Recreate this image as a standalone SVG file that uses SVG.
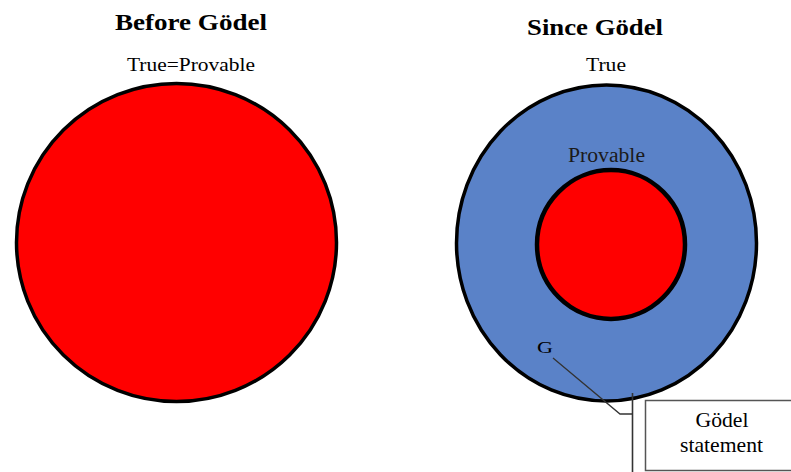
<svg xmlns="http://www.w3.org/2000/svg" width="791" height="472" viewBox="0 0 791 472">
<style>
.title{font-family:"Liberation Serif","Times New Roman",serif;font-weight:bold;font-size:23px;fill:#000}
.lbl{font-family:"Liberation Serif","Times New Roman",serif;fill:#000}
.red{fill:#FF0000;stroke:#000;stroke-width:3.5}
.blue{fill:#5A82C8;stroke:#000;stroke-width:3.5}
.call{fill:none;stroke:#333;stroke-width:1.3}
</style>
<rect width="791" height="472" fill="#fff"/>
<g id="before">
<text class="title" x="115" y="30" textLength="152" lengthAdjust="spacingAndGlyphs">Before Gödel</text>
<text class="lbl" x="127" y="71" style="font-size:18px" textLength="128" lengthAdjust="spacingAndGlyphs">True=Provable</text>
<ellipse class="red" cx="176.5" cy="242.5" rx="160" ry="159"/>
</g>
<g id="since">
<text class="title" x="527" y="35" textLength="136" lengthAdjust="spacingAndGlyphs">Since Gödel</text>
<text class="lbl" x="586" y="71" style="font-size:18px" textLength="40" lengthAdjust="spacingAndGlyphs">True</text>
</g>
<g id="true-set">
<ellipse class="blue" cx="606.5" cy="243" rx="150" ry="158"/>
</g>
<g id="provable-set">
<text class="lbl" x="568" y="162" style="font-size:20px;fill:#1a1a1a" textLength="77" lengthAdjust="spacingAndGlyphs">Provable</text>
<ellipse class="red" cx="611" cy="244.5" rx="74" ry="74.5" style="stroke-width:4.5"/>
</g>
<g id="G">
<text class="lbl" x="537" y="353" style="font-size:17px" textLength="16" lengthAdjust="spacingAndGlyphs">G</text>
</g>
<g id="connectors">
<polyline class="call" points="553,358 620,414 632.5,414"/>
<line class="call" x1="632.5" y1="393" x2="632.5" y2="472" style="stroke-width:1.6"/>
</g>
<g id="godel-statement">
<rect x="645.5" y="400.5" width="160" height="70" fill="#fff" stroke="#555" stroke-width="1.5"/>
<text class="lbl" x="722" y="427" style="font-size:21px" text-anchor="middle" textLength="53" lengthAdjust="spacingAndGlyphs">Gödel</text>
<text class="lbl" x="721.5" y="452" style="font-size:21px" text-anchor="middle" textLength="83" lengthAdjust="spacingAndGlyphs">statement</text>
</g>
</svg>
